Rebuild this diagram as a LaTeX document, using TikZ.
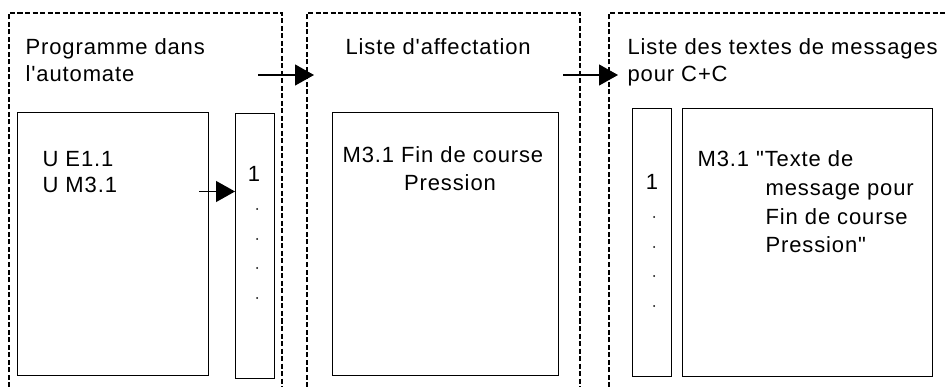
\documentclass[tikz,border=0pt]{standalone}
\usepackage{fontspec}
\setmainfont{Liberation Sans}[Ligatures=TeXOff,LetterSpace=4]
\usetikzlibrary{arrows.meta}
\begin{document}
\begin{tikzpicture}[x=1pt,y=-1pt,line width=1.2pt,
  dashframe/.style={dash pattern=on 5pt off 2.5pt,line width=1.2pt},
  box/.style={draw,inner sep=0pt,anchor=north west},
  txt/.style={anchor=base west,inner sep=0pt,font=\fontsize{22}{26}\selectfont},
  ctxt/.style={anchor=base,inner sep=0pt,font=\fontsize{22}{26}\selectfont},
  conn/.style={-{Triangle[length=19pt,width=21pt]}},
  dotmark/.style={circle,fill,inner sep=0pt,minimum size=2pt}]
\useasboundingbox (0,0) rectangle (947,387);
% dashed frames (open at the bottom)
\draw[dashframe] (9,387) -- (9,13) -- (282,13) -- (282,387);
\draw[dashframe] (307,387) -- (307,13) -- (580,13) -- (580,387);
\draw[dashframe] (609,387) -- (609,13) -- (947,13);
% frame 1
\node[txt] (t1a) at (25,55) {Programme dans};
\node[txt] (t1b) at (25,82) {l'automate};
\node[box,minimum width=191pt,minimum height=263pt] (prog) at (17,112) {};
\node[txt] (u1) at (42,167) {U E1.1};
\node[txt] (u2) at (42,193) {U M3.1};
\node[box,minimum width=39pt,minimum height=265pt] (col1) at (235,113) {};
\node[ctxt] (n1) at (254,182) {1};
\foreach \y/\n in {209/a,239/b,268/c,298/d}
  \node[dotmark] (d1\n) at (257,\y) {};
% frame 2
\node[txt] (t2) at (345,55) {Liste d'affectation};
\node[box,minimum width=226pt,minimum height=263pt] (aff) at (332,112) {};
\node[txt] (m1) at (342,163) {M3.1 Fin de course};
\node[ctxt] (m2) at (450,191) {Pression};
% frame 3
\node[txt] (t3a) at (627,55) {Liste des textes de messages};
\node[txt] (t3b) at (627,82) {pour C+C};
\node[box,minimum width=39pt,minimum height=268pt] (col3) at (632,108) {};
\node[box,minimum width=250pt,minimum height=268pt] (msg) at (682,108) {};
\node[ctxt] (n3) at (652,190) {1};
\foreach \y/\n in {217/a,247/b,276/c,306/d}
  \node[dotmark] (d3\n) at (654,\y) {};
\node[txt] (x1) at (697,167) {M3.1 "Texte de};
\node[txt] (x2) at (765,196) {message pour};
\node[txt] (x3) at (765,225) {Fin de course};
\node[txt] (x4) at (765,253) {Pression"};
% connectors
\coordinate (a0s) at (199,191.5);
\draw[conn] (a0s) -- (a0s -| col1.west);
\coordinate (a1s) at (258,75);
\coordinate (a1e) at (314,75);
\draw[conn] (a1s) -- (a1e);
\coordinate (a2s) at (563,75);
\coordinate (a2e) at (618,75);
\draw[conn] (a2s) -- (a2e);
\end{tikzpicture}
\end{document}
